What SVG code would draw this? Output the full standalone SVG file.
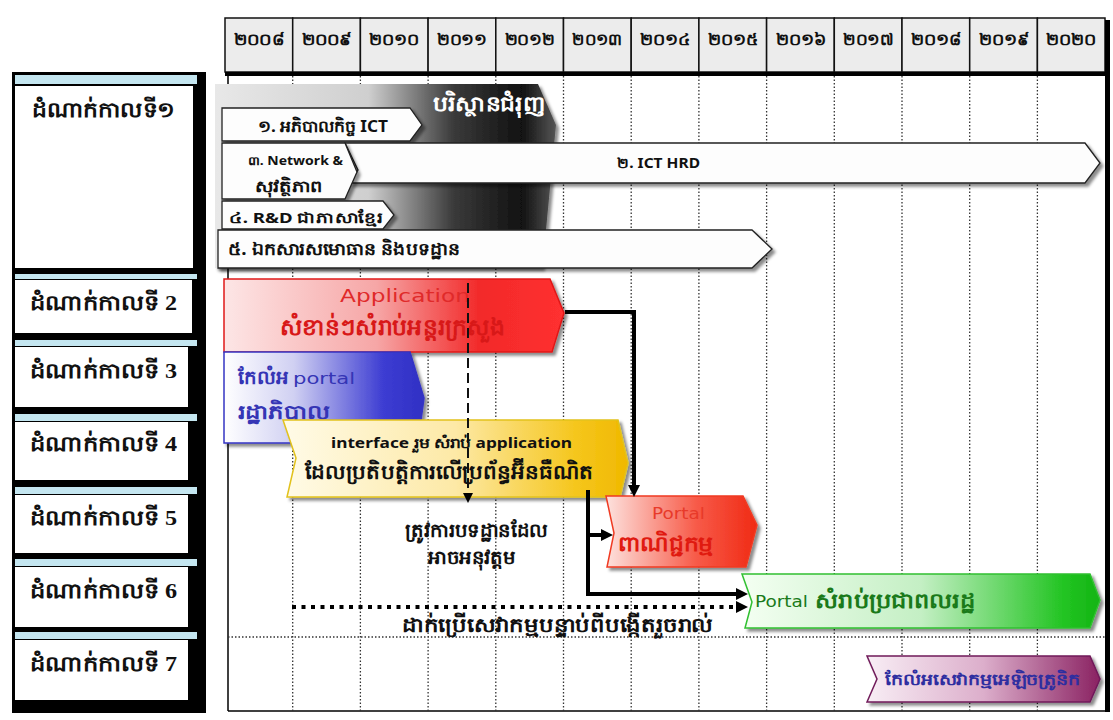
<svg xmlns="http://www.w3.org/2000/svg" width="1113" height="720" viewBox="0 0 1113 720">
<style>
.yr{font-family:"Noto Sans","DejaVu Sans",sans-serif;font-size:16px;font-weight:bold;fill:#111;text-anchor:middle}
.ph{font-family:"Liberation Serif","Noto Sans",serif;font-size:21px;font-weight:bold;fill:#111}
.k{font-family:"Noto Sans","DejaVu Sans",sans-serif;font-weight:bold}
.lat{font-family:"DejaVu Sans","Noto Sans",sans-serif}
.grid{stroke:#333;stroke-width:1.3;stroke-dasharray:1.5 2;fill:none}
.wa{fill:#fdfdfd;stroke:#222;stroke-width:1.3}
.cell{fill:#ececec;stroke:#111;stroke-width:1.5}
.conn{fill:none;stroke:#000;stroke-width:4}
</style>
<defs>
<linearGradient id="gEnv" x1="215" y1="0" x2="556" y2="0" gradientUnits="userSpaceOnUse">
<stop offset="0" stop-color="#e8e8e8"/><stop offset="0.45" stop-color="#cfcfcf"/><stop offset="0.7" stop-color="#3a3a3a"/><stop offset="0.9" stop-color="#111"/><stop offset="1" stop-color="#555"/>
</linearGradient>
<linearGradient id="gRed" x1="0" y1="0" x2="1" y2="0"><stop offset="0" stop-color="#fde6e6"/><stop offset="0.45" stop-color="#f6a6a6"/><stop offset="0.75" stop-color="#f22a2a"/><stop offset="1" stop-color="#ff3030"/></linearGradient>
<linearGradient id="gBlue" x1="0" y1="0" x2="1" y2="0"><stop offset="0" stop-color="#ffffff"/><stop offset="0.35" stop-color="#d0d0f2"/><stop offset="0.8" stop-color="#3c3cd2"/><stop offset="1" stop-color="#3030c4"/></linearGradient>
<linearGradient id="gYel" x1="0" y1="0" x2="1" y2="0"><stop offset="0" stop-color="#fffbe8"/><stop offset="0.5" stop-color="#fde9a6"/><stop offset="0.85" stop-color="#f5c61c"/><stop offset="1" stop-color="#f0b800"/></linearGradient>
<linearGradient id="gCom" x1="0" y1="0" x2="1" y2="0"><stop offset="0" stop-color="#fde2de"/><stop offset="0.6" stop-color="#f75a48"/><stop offset="1" stop-color="#f02a14"/></linearGradient>
<linearGradient id="gGrn" x1="0" y1="0" x2="1" y2="0"><stop offset="0" stop-color="#f4fff2"/><stop offset="0.5" stop-color="#c4efc4"/><stop offset="0.9" stop-color="#22c422"/><stop offset="1" stop-color="#14b414"/></linearGradient>
<linearGradient id="gPur" x1="0" y1="0" x2="1" y2="0"><stop offset="0" stop-color="#f8eef5"/><stop offset="0.5" stop-color="#dcaecb"/><stop offset="1" stop-color="#8a2262"/></linearGradient>
<filter id="sh" x="-5%" y="-10%" width="115%" height="130%"><feDropShadow dx="3" dy="3" stdDeviation="1.5" flood-color="#000" flood-opacity="0.45"/></filter>
<marker id="ah" markerWidth="12" markerHeight="12" refX="0" refY="6" orient="auto" markerUnits="userSpaceOnUse"><path d="M0,0 L12,6 L0,12 z" fill="#000"/></marker>
<marker id="ahs" markerWidth="10" markerHeight="10" refX="0" refY="5" orient="auto" markerUnits="userSpaceOnUse"><path d="M0,0 L10,5 L0,10 z" fill="#000"/></marker>
</defs>

<rect width="1113" height="720" fill="#fff"/>

<!-- header -->
<g id="header">
<rect x="225" y="18" width="880" height="54" fill="#ececec"/>
<g class="cell">
<rect x="225" y="18" width="67.7" height="54"/><rect x="292.7" y="18" width="67.7" height="54"/><rect x="360.4" y="18" width="67.7" height="54"/><rect x="428.1" y="18" width="67.7" height="54"/><rect x="495.8" y="18" width="67.7" height="54"/><rect x="563.5" y="18" width="67.7" height="54"/><rect x="631.2" y="18" width="67.7" height="54"/><rect x="698.9" y="18" width="67.7" height="54"/><rect x="766.6" y="18" width="67.7" height="54"/><rect x="834.3" y="18" width="67.7" height="54"/><rect x="902" y="18" width="67.7" height="54"/><rect x="969.7" y="18" width="67.7" height="54"/><rect x="1037.4" y="18" width="67.6" height="54"/>
</g>
<g class="yr">
<text x="258.9" y="45" textLength="50" lengthAdjust="spacingAndGlyphs">២០០៨</text><text x="326.6" y="45" textLength="50" lengthAdjust="spacingAndGlyphs">២០០៩</text><text x="394.3" y="45" textLength="50" lengthAdjust="spacingAndGlyphs">២០១០</text><text x="462" y="45" textLength="50" lengthAdjust="spacingAndGlyphs">២០១១</text><text x="529.7" y="45" textLength="50" lengthAdjust="spacingAndGlyphs">២០១២</text><text x="597.4" y="45" textLength="50" lengthAdjust="spacingAndGlyphs">២០១៣</text><text x="665.1" y="45" textLength="50" lengthAdjust="spacingAndGlyphs">២០១៤</text><text x="732.8" y="45" textLength="50" lengthAdjust="spacingAndGlyphs">២០១៥</text><text x="800.5" y="45" textLength="50" lengthAdjust="spacingAndGlyphs">២០១៦</text><text x="868.2" y="45" textLength="50" lengthAdjust="spacingAndGlyphs">២០១៧</text><text x="935.9" y="45" textLength="50" lengthAdjust="spacingAndGlyphs">២០១៨</text><text x="1003.6" y="45" textLength="50" lengthAdjust="spacingAndGlyphs">២០១៩</text><text x="1071.2" y="45" textLength="50" lengthAdjust="spacingAndGlyphs">២០២០</text>
</g>
</g>

<!-- chart frame and grid -->
<g id="frame">
<rect x="228" y="76" width="877" height="635" fill="#fff"/>
<rect x="225" y="72" width="885" height="4" fill="#000"/>
<rect x="1105" y="20" width="5" height="692" fill="#000"/>
<line x1="228" y1="76" x2="228" y2="711" stroke="#000" stroke-width="1.5"/>
<line x1="228" y1="711" x2="1108" y2="711" stroke="#000" stroke-width="1.5"/>
<path class="grid" d="M292.7,76V711M360.4,76V711M428.1,76V711M495.8,76V711M563.5,76V711M631.2,76V711M698.9,76V711M766.6,76V711M834.3,76V711M902,76V711M969.7,76V711M1037.4,76V711M228,637H1105"/>
</g>

<!-- left phase labels -->
<g id="phases">
<rect x="12" y="72" width="194" height="641" fill="#000"/>
<rect x="15" y="75" width="182" height="9" fill="#c4e6f0"/>
<rect x="15" y="86" width="178" height="182" fill="#fff"/>
<rect x="15" y="274" width="182" height="5" fill="#c4e6f0"/>
<rect x="15" y="280" width="177" height="53" fill="#fff"/>
<rect x="15" y="340" width="182" height="6" fill="#c4e6f0"/>
<rect x="15" y="347" width="173" height="60" fill="#fff"/>
<rect x="15" y="414" width="182" height="7" fill="#c4e6f0"/>
<rect x="15" y="422" width="173" height="58" fill="#fff"/>
<rect x="15" y="487" width="182" height="7" fill="#c4e6f0"/>
<rect x="15" y="495" width="173" height="58" fill="#fff"/>
<rect x="15" y="559" width="182" height="7" fill="#c4e6f0"/>
<rect x="15" y="567" width="173" height="60" fill="#fff"/>
<rect x="15" y="632" width="182" height="7" fill="#c4e6f0"/>
<rect x="15" y="640" width="173" height="60" fill="#fff"/>
<text class="ph" x="32" y="117" textLength="143" lengthAdjust="spacingAndGlyphs">ដំណាក់កាលទី១</text>
<text class="ph" x="30" y="310" textLength="147" lengthAdjust="spacingAndGlyphs">ដំណាក់កាលទី 2</text>
<text class="ph" x="30" y="378" textLength="147" lengthAdjust="spacingAndGlyphs">ដំណាក់កាលទី 3</text>
<text class="ph" x="30" y="451" textLength="147" lengthAdjust="spacingAndGlyphs">ដំណាក់កាលទី 4</text>
<text class="ph" x="30" y="525" textLength="147" lengthAdjust="spacingAndGlyphs">ដំណាក់កាលទី 5</text>
<text class="ph" x="30" y="598" textLength="147" lengthAdjust="spacingAndGlyphs">ដំណាក់កាលទី 6</text>
<text class="ph" x="30" y="671" textLength="147" lengthAdjust="spacingAndGlyphs">ដំណាក់កាលទី 7</text>
</g>

<!-- phase 1 -->
<g id="env">
<path d="M215,84 H538 L556,125 L546,230 L542,268 H215 Z" fill="url(#gEnv)" filter="url(#sh)"/>
<text class="k" x="433" y="111" font-size="21" fill="#fff" font-weight="normal" textLength="112" lengthAdjust="spacingAndGlyphs">បរិស្ថានជំរុញ</text>
</g>
<g id="n1"><path class="wa" d="M222,108 H410 L422,125 L410,141 H222 Z" filter="url(#sh)"/>
<text class="k" x="258" y="132" font-size="16" fill="#111" textLength="130" lengthAdjust="spacingAndGlyphs">១. អភិបាលកិច្ច ICT</text></g>
<g id="n2"><path class="wa" d="M345,143 H1085 L1100,163 L1085,183 H350 L358,170 Z" filter="url(#sh)"/>
<text class="k" x="617" y="168" font-size="14" fill="#111" textLength="83" lengthAdjust="spacingAndGlyphs">២. ICT HRD</text></g>
<g id="n3"><path class="wa" d="M222,143 H345 L357,172 L345,199 H222 Z" filter="url(#sh)"/>
<text class="k" x="248" y="165" font-size="12" fill="#111" textLength="95" lengthAdjust="spacingAndGlyphs">៣. Network &amp;</text>
<text class="k" x="255" y="192" font-size="16" fill="#111" textLength="67" lengthAdjust="spacingAndGlyphs">សុវត្ថិភាព</text></g>
<g id="n4"><path class="wa" d="M222,201 H383 L394,215 L383,229 H222 Z" filter="url(#sh)"/>
<text class="k" x="229" y="223" font-size="15" fill="#111" textLength="154" lengthAdjust="spacingAndGlyphs">៤. R&amp;D ជាភាសាខ្មែរ</text></g>
<g id="n5"><path class="wa" d="M218,230 H752 L772,249 L752,268 H218 Z" filter="url(#sh)"/>
<text class="k" x="228" y="255" font-size="17" fill="#111" textLength="232" lengthAdjust="spacingAndGlyphs">៥. ឯកសារសមោធាន និងបទដ្ឋាន</text></g>

<!-- phase 2-7 -->
<g id="app"><path d="M224,279 H550 L564,313 L552,352 H224 Z" fill="url(#gRed)" stroke="#e01818" stroke-width="1.5" filter="url(#sh)"/>
<text class="lat" x="340" y="302" font-size="17" fill="#e02a2a" textLength="130" lengthAdjust="spacingAndGlyphs">Application</text>
<text class="k" x="280" y="335" font-size="23" fill="#d81818" textLength="225" lengthAdjust="spacingAndGlyphs">សំខាន់ៗសំរាប់អន្តរក្រសួង</text></g>

<g id="gov"><path d="M224,352 H410 L424,398 L418,443 H224 Z" fill="url(#gBlue)" stroke="#3434c4" stroke-width="1.5" filter="url(#sh)"/>
<text class="k" x="238" y="384" font-size="19" fill="#3535b5" textLength="50" lengthAdjust="spacingAndGlyphs">កែលំអ</text>
<text class="lat" x="293" y="384" font-size="16" fill="#3535b5" textLength="62" lengthAdjust="spacingAndGlyphs">portal</text>
<text class="k" x="238" y="419" font-size="20" fill="#3535b5" textLength="92" lengthAdjust="spacingAndGlyphs">រដ្ឋាភិបាល</text></g>

<g id="iface"><path d="M283,420 H618 L628,463 L620,497 H287 L296,458 Z" fill="url(#gYel)" stroke="#e2c21c" stroke-width="1.5" filter="url(#sh)"/>
<text class="k" x="331" y="448" font-size="14" fill="#111" textLength="241" lengthAdjust="spacingAndGlyphs">interface រួម សំរាប់ application</text>
<text class="k" x="305" y="479" font-size="20" fill="#111" textLength="288" lengthAdjust="spacingAndGlyphs">ដែលប្រតិបត្តិការលើប្រព័ន្ធអ៊ីនធឺណិត</text></g>

<g id="com"><path d="M606,496 H743 L757,525 L746,567 H607 L614,533 Z" fill="url(#gCom)" stroke="#f03a22" stroke-width="1.5" filter="url(#sh)"/>
<text class="lat" x="652" y="519" font-size="15" fill="#e83a2a" textLength="53" lengthAdjust="spacingAndGlyphs">Portal</text>
<text class="k" x="618" y="551" font-size="21" fill="#e01a10" textLength="95" lengthAdjust="spacingAndGlyphs">ពាណិជ្ជកម្ម</text></g>

<g id="cit"><path d="M742,574 H1090 L1100,600 L1090,628 H745 L752,602 Z" fill="url(#gGrn)" stroke="#30c030" stroke-width="1.5" filter="url(#sh)"/>
<text class="lat" x="755" y="607" font-size="16" fill="#1a7a1a" textLength="53" lengthAdjust="spacingAndGlyphs">Portal</text>
<text class="k" x="815" y="608" font-size="21" fill="#1a7a1a" textLength="160" lengthAdjust="spacingAndGlyphs">សំរាប់ប្រជាពលរដ្ឋ</text></g>

<g id="esvc"><path d="M867,656 H1090 L1100,679 L1090,702 H867 L877,679 Z" fill="url(#gPur)" stroke="#701a5a" stroke-width="1.5" filter="url(#sh)"/>
<text class="k" x="885" y="685" font-size="16" fill="#2e2ea0" textLength="195" lengthAdjust="spacingAndGlyphs">កែលំអសេវាកម្មអេឡិចត្រូនិក</text></g>

<!-- connectors -->
<g id="connectors">
<path class="conn" d="M565,312 H634 V485" marker-end="url(#ah)"/>
<path class="conn" d="M588,490 V594 H736" marker-end="url(#ah)"/>
<path class="conn" d="M588,535 H601" marker-end="url(#ah)"/>
<path d="M292,607 H736" fill="none" stroke="#000" stroke-width="4" stroke-dasharray="4 5.5" marker-end="url(#ah)"/>
<path d="M468,283 V493" fill="none" stroke="#111" stroke-width="2" stroke-dasharray="10 5" marker-end="url(#ahs)"/>
</g>

<g id="notes">
<text class="k" x="405" y="537" font-size="19" fill="#111" font-weight="normal" textLength="143" lengthAdjust="spacingAndGlyphs">ត្រូវការបទដ្ឋានដែល</text>
<text class="k" x="428" y="564" font-size="19" fill="#111" font-weight="normal" textLength="87" lengthAdjust="spacingAndGlyphs">អាចអនុវត្តម</text>
<text class="k" x="402" y="632" font-size="20" fill="#111" font-weight="normal" textLength="311" lengthAdjust="spacingAndGlyphs">ដាក់ប្រើសេវាកម្មបន្ទាប់ពីបង្កើតរួចរាល់</text>
</g>
</svg>
